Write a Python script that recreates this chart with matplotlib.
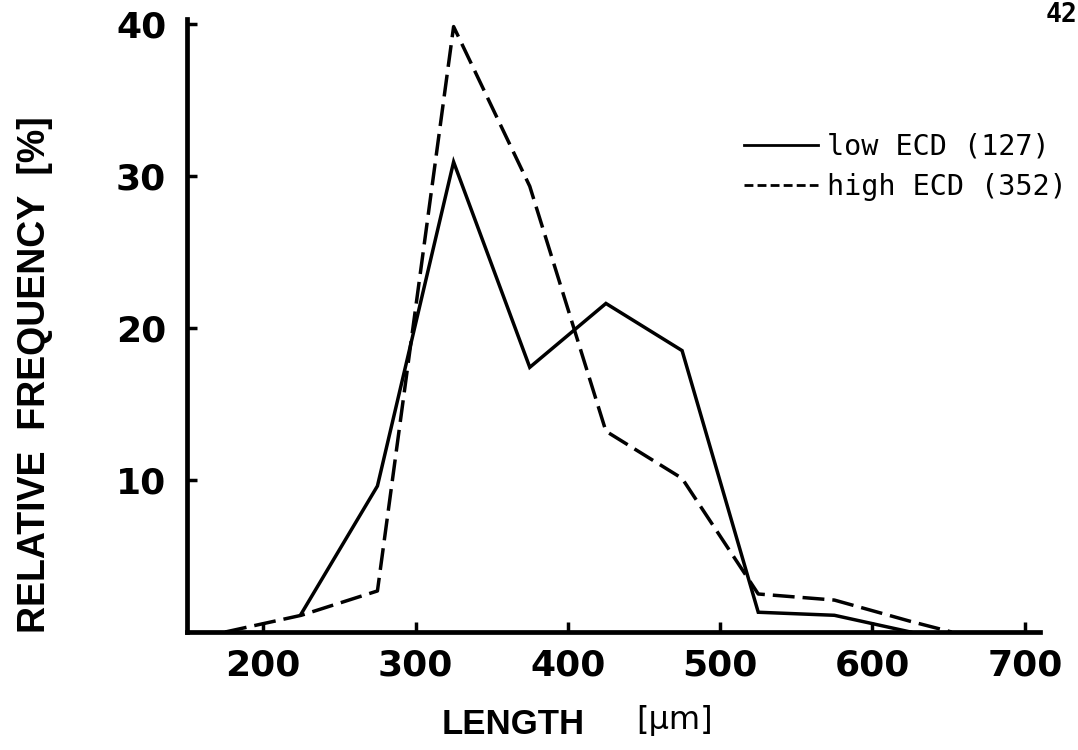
import matplotlib
matplotlib.use("Agg")
import matplotlib.pyplot as plt
from matplotlib.lines import Line2D

# ---- data ----
length_low = [225, 275, 325, 375, 425, 475, 525, 575, 625]
freq_low = [1.2, 9.6, 30.9, 17.4, 21.6, 18.5, 1.3, 1.1, 0.0]

length_high = [175, 225, 275, 325, 375, 425, 475, 525, 575, 625, 652]
freq_high = [0.0, 1.1, 2.7, 39.8, 29.3, 13.2, 10.1, 2.5, 2.1, 0.7, 0.0]

xticks = [200, 300, 400, 500, 600, 700]
yticks = [10, 20, 30, 40]
label_low = "low ECD (127)"
label_high = "high ECD (352)"

fig = plt.figure(figsize=(10.78, 7.5), dpi=100)
ax = fig.add_axes([0.1735, 0.1573, 0.7913, 0.8174])

ax.plot(length_low, freq_low, color="black", lw=2.5, solid_joinstyle="miter")
ax.plot(length_high, freq_high, color="black", lw=2.5, dashes=(6.3, 2.3))

ax.set_xlim(150, 710)
ax.set_ylim(0, 40.3)

for s in ["top", "right"]:
    ax.spines[s].set_visible(False)
for s in ["left", "bottom"]:
    ax.spines[s].set_linewidth(3.4)

ax.set_xticks(xticks)
ax.set_yticks(yticks)
ax.tick_params(axis="both", direction="in", length=7, width=2.5)
ax.tick_params(axis="x", pad=12)
ax.tick_params(axis="y", pad=15)
for lab in ax.get_xticklabels() + ax.get_yticklabels():
    lab.set_fontfamily("DejaVu Sans")
    lab.set_fontweight("bold")
    lab.set_fontsize(26)

handles = [
    Line2D([], [], color="black", lw=2.0),
    Line2D([], [], color="black", lw=2.0, dashes=(3.2, 1.5)),
]
leg = ax.legend(handles, [label_low, label_high], loc="upper left",
                bbox_to_anchor=(744 / 1078, 1 - 133 / 750),
                bbox_transform=fig.transFigure, frameon=False,
                borderpad=0, borderaxespad=0, handlelength=2.6,
                handletextpad=0.3, labelspacing=0.42,
                prop={"family": "DejaVu Sans Mono", "size": 20.5})

fig.text(35 / 1078, 1 - 375 / 750, "RELATIVE  FREQUENCY  [%]", rotation=90,
         ha="center", va="center", fontsize=27, fontweight="bold",
         family="Liberation Sans")

fig.text(442 / 1078, 1 - 724 / 750, "LENGTH", ha="left", va="center",
         fontsize=25, fontweight="bold", family="Liberation Sans")
fig.text(636 / 1078, 1 - 721 / 750, "[μm]", ha="left", va="center",
         fontsize=23, family="DejaVu Sans")

fig.text(1077 / 1078, 1 - 2 / 750, "42", ha="right", va="top",
         fontsize=19, fontweight="bold", family="DejaVu Sans Mono")

fig.savefig("out.png", dpi=100)
